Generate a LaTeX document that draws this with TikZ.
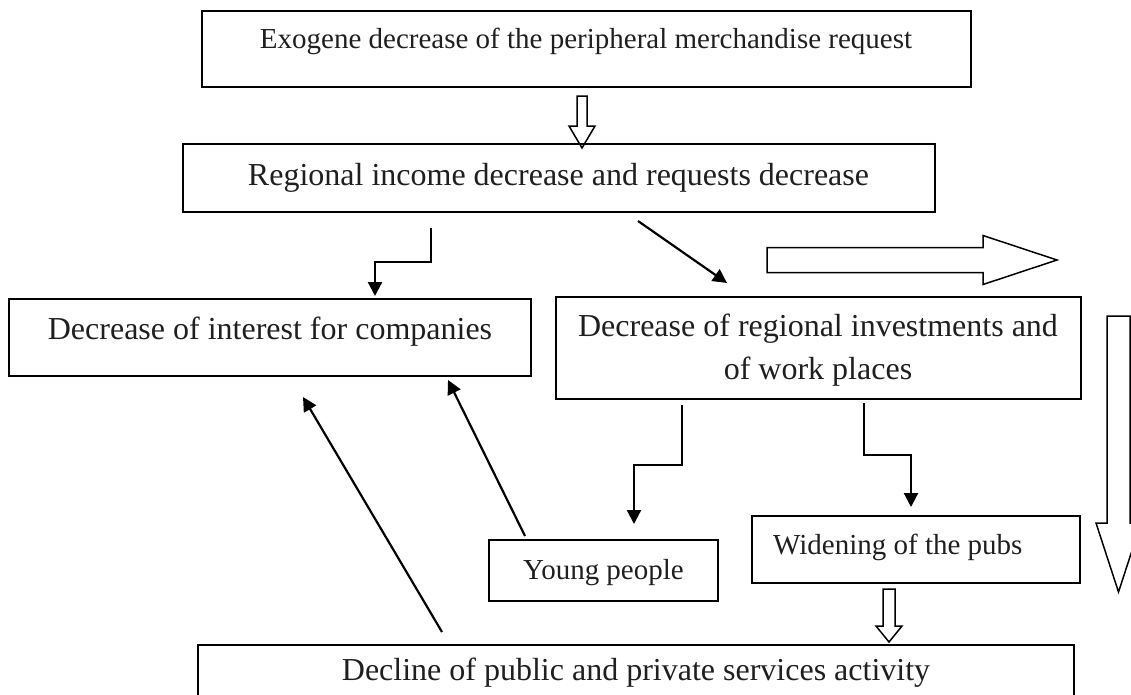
\documentclass[tikz,border=0pt]{standalone}
\usepackage{fontspec}
\setmainfont{Liberation Serif}
\usetikzlibrary{arrows.meta,calc}
\begin{document}
\begin{tikzpicture}[x=1pt,y=-1pt,
  box/.style={draw, line width=1.8pt, inner sep=0pt},
  big/.style={font=\fontsize{32}{43}\selectfont, inner sep=0pt, text=black!88},
  small/.style={font=\fontsize{29}{36}\selectfont, inner sep=0pt, text=black!88},
  arr/.style={line width=2.2pt, -{Triangle[length=14pt,width=14pt]}},
  hollow/.style={draw, line width=1.5pt, line join=miter}]
\useasboundingbox (0,0) rectangle (1131,694);
\clip (0,0) rectangle (1131,694);
% boxes
\node[box, minimum width=769pt, minimum height=76pt] (b1) at (586.5,49) {};
\node[box, minimum width=752pt, minimum height=68pt] (b2) at (559,178) {};
\node[box, minimum width=522pt, minimum height=77pt] (b3) at (270,337.5) {};
\node[box, minimum width=525pt, minimum height=102pt] (b4) at (818.5,348) {};
\node[box, minimum width=229pt, minimum height=61pt] (b5) at (603.5,570.5) {};
\node[box, minimum width=328pt, minimum height=67pt] (b6) at (916,549.5) {};
\node[box, minimum width=876pt, minimum height=75pt] (b7) at (636,682.5) {};
% texts
\node[small, anchor=base] (t1) at (586,48) {Exogene decrease of the peripheral merchandise request};
\node[big, anchor=base] (t2) at (558.5,185) {Regional income decrease and requests decrease};
\node[big, anchor=base] (t3) at (270,339) {Decrease of interest for companies};
\node[big, anchor=base] (t4a) at (818,336) {Decrease of regional investments and};
\node[big, anchor=base] (t4b) at (818,379) {of work places};
\node[small, anchor=base] (t5) at (603.5,579) {Young people};
\node[small, anchor=base west] (t6) at (773,554) {Widening of the pubs};
\node[big, anchor=base] (t7) at (636,680) {Decline of public and private services activity};
% hollow arrows
\coordinate (h1s) at (582,96); \coordinate (h1e) at (582,148);
\draw[hollow] ($(h1s)+(-5,0)$) -- ($(h1s)+(5,0)$) -- ($(h1e)+(5,-22)$) -- ($(h1e)+(13,-22)$) -- (h1e) -- ($(h1e)+(-13,-22)$) -- ($(h1e)+(-5,-22)$) -- cycle;
\coordinate (h2s) at (767,260); \coordinate (h2e) at (1057,260);
\draw[hollow] ($(h2s)+(0,-12.5)$) -- ($(h2e)+(-74,-12.5)$) -- ($(h2e)+(-74,-24.5)$) -- (h2e) -- ($(h2e)+(-74,24.5)$) -- ($(h2e)+(-74,12.5)$) -- ($(h2s)+(0,12.5)$) -- cycle;
\coordinate (h3s) at (1118.5,316); \coordinate (h3e) at (1118.5,592);
\draw[hollow] ($(h3s)+(-11.5,0)$) -- ($(h3s)+(11.5,0)$) -- ($(h3e)+(11.5,-69)$) -- ($(h3e)+(22.5,-69)$) -- (h3e) -- ($(h3e)+(-22.5,-69)$) -- ($(h3e)+(-11.5,-69)$) -- cycle;
\coordinate (h4s) at (889,589); \coordinate (h4e) at (889,642);
\draw[hollow] ($(h4s)+(-6,0)$) -- ($(h4s)+(6,0)$) -- ($(h4e)+(6,-16)$) -- ($(h4e)+(13,-16)$) -- (h4e) -- ($(h4e)+(-13,-16)$) -- ($(h4e)+(-6,-16)$) -- cycle;
% line arrows
\coordinate (e1s) at (431,228); \coordinate (e1e) at (375,296);
\draw[arr] (e1s) -- ++(0,34) -| (e1e);
\coordinate (d1s) at (638,221); \coordinate (d1e) at (727,283);
\draw[arr] (d1s) -- (d1e);
\coordinate (e2s) at (682,405); \coordinate (e2e) at (634,524);
\draw[arr] (e2s) -- ++(0,60) -| (e2e);
\coordinate (e3s) at (864,403); \coordinate (e3e) at (911,507);
\draw[arr] (e3s) -- ++(0,52) -| (e3e);
\coordinate (l1s) at (442,632); \coordinate (l1e) at (303,397);
\draw[arr] (l1s) -- (l1e);
\coordinate (l2s) at (525,536); \coordinate (l2e) at (448,380);
\draw[arr] (l2s) -- (l2e);
\end{tikzpicture}
\end{document}
